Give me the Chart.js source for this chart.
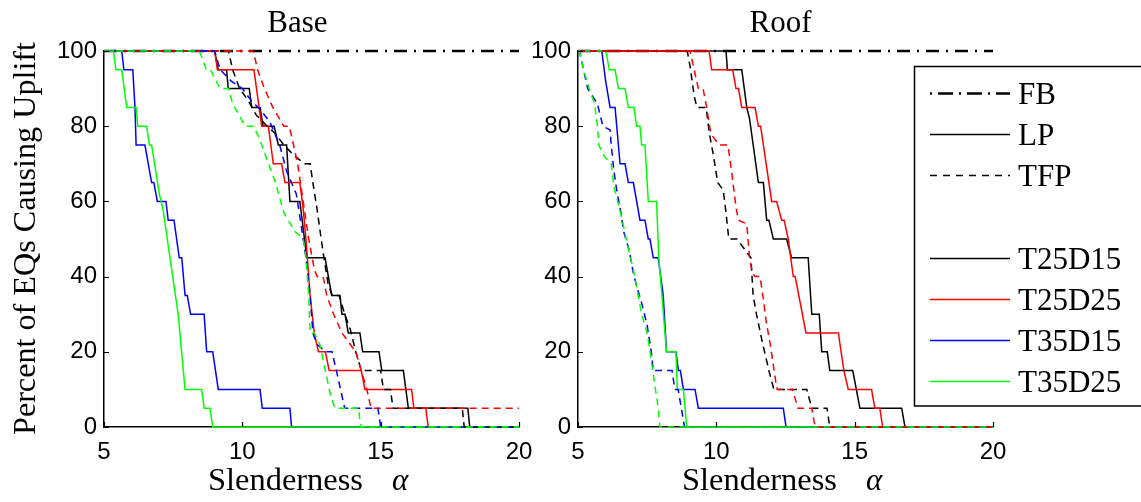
<!DOCTYPE html>
<html><head><meta charset="utf-8">
<script src="https://cdn.jsdelivr.net/npm/chart.js@4.4.1/dist/chart.umd.min.js"></script>
<style>
html,body{margin:0;padding:0;background:#fff;}
#wrap{position:relative;width:1141px;height:502px;overflow:hidden;background:#fff;}
canvas{position:absolute;left:0;top:0;}
</style></head><body>
<div id="wrap"><canvas id="c1" width="1141" height="502"></canvas><canvas id="c2" width="1141" height="502"></canvas></div>
<script>
// ---------- data ----------
const panelTitles = ['Base', 'Roof'];
const xTickValues = [5, 10, 15, 20];
const yTickValues = [0, 20, 40, 60, 80, 100];
const seriesNames = ['T25D15', 'T25D25', 'T35D15', 'T35D25'];
const seriesColors = ['#000000', '#ff0000', '#0000ff', '#00ff00'];
const legendLabels = ['FB', 'LP', 'TFP', '', 'T25D15', 'T25D25', 'T35D15', 'T35D25'];

const fbLine = [[5,100],[20,100]];

// Base panel, LP (solid)
const baseLP_T25D15 = [[5,100],[9.0,100],[9.13,95],[9.43,95],[9.49,90],[10.25,90],[10.34,85],[10.64,85],[10.75,80],[11.15,80],[11.3,75],[11.6,75],[11.72,60],[12.08,60],[12.33,45],[12.99,45],[13.23,35],[13.53,35],[13.6,30],[13.71,30],[13.83,25],[14.25,25],[14.35,20],[14.94,20],[15.04,15],[15.82,15],[16.0,5],[18.15,5],[18.22,0],[20,0]];
const baseLP_T25D25 = [[5,100],[9.0,100],[9.1,95],[10.42,95],[10.55,88],[10.7,80],[10.94,80],[11.12,70],[11.42,70],[11.54,65],[12.08,65],[12.2,58],[12.3,50],[12.45,35],[12.6,25],[12.75,20],[13.0,20],[13.14,15],[14.3,15],[14.43,10],[16.12,10],[16.2,5],[16.63,5],[16.72,0],[20,0]];
const baseLP_T35D15 = [[5,100],[5.64,100],[5.72,95],[6.04,95],[6.12,85],[6.16,75],[6.48,75],[6.6,70],[6.72,65],[6.8,65],[6.93,60],[7.24,60],[7.32,55],[7.53,55],[7.72,45],[7.81,45],[7.93,35],[8.01,35],[8.13,30],[8.62,30],[8.71,20],[8.93,20],[9.13,10],[10.64,10],[10.72,5],[11.72,5],[11.78,0],[20,0]];
const baseLP_T35D25 = [[5,100],[5.34,100],[5.43,95],[5.64,95],[5.82,85],[6.16,85],[6.22,80],[6.54,80],[6.64,75],[6.72,75],[7.0,62],[7.13,58],[7.68,30],[7.93,10],[8.53,10],[8.62,5],[8.83,5],[8.93,0],[20,0]];
// Base panel, TFP (dashed)
const baseTFP_T25D15 = [[5,100],[9.5,100],[9.65,95],[9.9,90],[10.2,87],[10.5,83],[10.9,80],[11.2,78],[11.5,75],[11.9,72],[12.25,70],[12.45,70],[12.55,65],[12.7,58],[12.85,50],[12.95,45],[13.1,38],[13.25,35],[13.5,35],[13.7,30],[13.9,26],[14.1,20],[14.3,15],[15.0,15],[15.1,10],[15.35,10],[15.45,5],[17.95,5],[18.02,0],[20,0]];
const baseTFP_T25D25 = [[5,100],[10.4,100],[10.55,95],[10.8,90],[11.1,85],[11.5,80],[11.7,80],[11.85,75],[12.0,70],[12.2,60],[12.4,50],[12.6,42],[12.7,40],[12.92,40],[13.05,35],[13.3,30],[13.6,25],[14.1,20],[14.3,15],[14.5,10],[14.65,5],[20,5]];
const baseTFP_T35D15 = [[5,100],[9.0,100],[9.2,95],[9.6,92],[10.0,90],[10.3,87],[10.7,84],[11.0,81],[11.35,75],[11.6,68],[11.95,62],[12.1,55],[12.3,45],[12.45,35],[12.55,25],[12.7,22],[13.0,20],[13.24,20],[13.4,15],[13.55,10],[13.7,5],[14.9,5],[15.0,0],[20,0]];
const baseTFP_T35D25 = [[5,100],[8.45,100],[8.7,95],[8.85,95],[9.2,90],[9.5,90],[9.65,86],[9.95,82],[10.1,80],[10.4,80],[10.6,77],[10.95,70],[11.2,65],[11.5,57],[11.9,52],[12.2,50],[12.3,45],[12.4,35],[12.45,25],[12.6,25],[12.8,22],[13.0,15],[13.2,8],[13.35,5],[14.2,5],[14.28,0],[20,0]];

// Roof panel, LP (solid)
const roofLP_T25D15 = [[5,100],[10.35,100],[10.4,95],[10.92,95],[11.1,85],[11.2,82],[11.52,65],[11.7,65],[11.82,55],[11.9,55],[12.06,50],[12.54,50],[12.72,45],[13.32,45],[13.45,30],[13.72,30],[13.81,20],[14.01,20],[14.1,15],[14.93,15],[15.19,5],[16.7,5],[16.82,0],[20,0]];
const roofLP_T25D25 = [[5,100],[9.74,100],[9.83,95],[10.59,95],[10.71,90],[10.8,90],[10.92,85],[11.4,85],[11.52,80],[11.6,80],[12.0,60],[12.18,60],[12.36,55],[12.45,55],[12.6,50],[12.78,40],[12.85,40],[13.24,25],[14.41,25],[14.61,15],[14.77,10],[15.61,10],[15.73,5],[15.91,5],[16.01,0],[20,0]];
const roofLP_T35D15 = [[5,100],[5.86,100],[6.0,92],[6.16,85],[6.34,85],[6.52,70],[6.7,70],[6.82,65],[7.0,65],[7.24,55],[7.42,55],[7.54,50],[7.6,50],[7.72,45],[7.9,45],[8.08,35],[8.2,20],[8.54,20],[8.63,15],[8.7,15],[8.81,10],[9.23,10],[9.35,5],[12.42,5],[12.52,0],[20,0]];
const roofLP_T35D25 = [[5,100],[6.01,100],[6.13,95],[6.34,95],[6.46,90],[6.7,90],[6.82,85],[7.02,85],[7.12,80],[7.24,80],[7.3,75],[7.42,75],[7.54,60],[7.84,60],[7.92,45],[8.2,20],[8.54,20],[8.59,10],[8.81,10],[8.93,0],[20,0]];
// Roof panel, TFP (dashed)
const roofTFP_T25D15 = [[5,100],[8.95,100],[9.05,96],[9.2,88],[9.3,85],[9.63,85],[9.75,78],[9.9,72],[10.05,65],[10.25,63],[10.35,57],[10.45,50],[10.75,50],[11.25,45],[11.33,35],[11.45,30],[11.65,23],[11.9,15],[12.08,10],[13.27,10],[13.45,5],[14.0,5],[14.1,0],[20,0]];
const roofTFP_T25D25 = [[5,100],[9.05,100],[9.2,95],[9.35,90],[9.52,90],[9.65,85],[9.8,78],[10.1,75],[10.42,75],[10.55,68],[10.72,58],[10.8,55],[11.1,54],[11.2,45],[11.3,41],[11.4,40],[11.58,40],[11.7,34],[11.8,28],[11.95,22],[12.05,17],[12.15,12],[12.2,10],[12.75,10],[12.95,5],[13.45,5],[13.57,0],[20,0]];
const roofTFP_T35D15 = [[5,100],[5.05,100],[5.2,95],[5.35,90],[5.7,86],[5.9,80],[6.16,79],[6.2,75],[6.3,68],[6.4,63],[6.55,57],[6.65,52],[6.85,47],[7.0,41],[7.1,38],[7.3,33],[7.5,27],[7.65,20],[7.72,15],[8.4,15],[8.5,10],[8.62,10],[8.85,0],[20,0]];
const roofTFP_T35D25 = [[5,100],[5.05,100],[5.2,95],[5.4,90],[5.6,86],[5.7,80],[5.75,75],[5.95,72],[6.2,70],[6.3,64],[6.5,58],[6.6,55],[6.8,48],[7.0,42],[7.1,38],[7.3,30],[7.5,25],[7.6,20],[7.7,15],[7.8,10],[7.9,5],[7.96,0],[20,0]];

const baseLP = [baseLP_T25D15, baseLP_T25D25, baseLP_T35D15, baseLP_T35D25];
const baseTFP = [baseTFP_T25D15, baseTFP_T25D25, baseTFP_T35D15, baseTFP_T35D25];
const roofLP = [roofLP_T25D15, roofLP_T25D25, roofLP_T35D15, roofLP_T35D25];
const roofTFP = [roofTFP_T25D15, roofTFP_T25D25, roofTFP_T35D15, roofTFP_T35D25];

// ---------- styles ----------
const FB_DASH = [13, 7, 2, 7];
const TFP_DASH = [7, 5];
const SERIF = '"Liberation Serif", "Times New Roman", serif';
const SANS = '"Liberation Sans", Arial, sans-serif';
const TITLE_SHIFT = [-14, -5];

function toPts(arr){ return arr.map(p => ({x:p[0], y:p[1]})); }

function buildDatasets(lp, tfp){
  const ds = [];
  ds.push({label:'FB', data:toPts(fbLine), borderColor:'#000', borderWidth:2.5, borderDash:FB_DASH, order:100});
  let ord = 50;
  lp.forEach((s,i) => ds.push({label:seriesNames[i]+' LP', data:toPts(s), borderColor:seriesColors[i], borderWidth:1.5, order:ord--}));
  tfp.forEach((s,i) => ds.push({label:seriesNames[i]+' TFP', data:toPts(s), borderColor:seriesColors[i], borderWidth:1.5, borderDash:TFP_DASH, order:ord--}));
  ds.forEach(d => { d.pointRadius = 0; d.tension = 0; d.fill = false; d.clip = false; });
  return ds;
}

function fitText(ctx, text, x, y, font, width, align){
  ctx.save();
  ctx.font = font;
  ctx.textAlign = align || 'left';
  ctx.textBaseline = 'alphabetic';
  const w = ctx.measureText(text).width;
  const s = width ? width / w : 1;
  ctx.translate(x, y);
  ctx.scale(s, 1);
  ctx.fillStyle = '#000';
  ctx.fillText(text, 0, 0);
  ctx.restore();
}

function decorPlugin(panelIndex){
  return {
    id:'decor'+panelIndex,
    afterDraw(chart){
      const ctx = chart.ctx;
      const a = chart.chartArea;
      const xs = chart.scales.x, ys = chart.scales.y;
      ctx.save();
      // inward ticks
      ctx.strokeStyle = '#000'; ctx.lineWidth = 1.2; ctx.setLineDash([]);
      ctx.beginPath();
      yTickValues.forEach(v => { const py = Math.round(ys.getPixelForValue(v)) + 0.5; ctx.moveTo(a.left, py); ctx.lineTo(a.left + 5, py); });
      xTickValues.forEach(v => { const px = Math.round(xs.getPixelForValue(v)) + 0.5; ctx.moveTo(px, a.bottom); ctx.lineTo(px, a.bottom - 5); });
      ctx.stroke();
      // title
      const cx = (a.left + a.right) / 2;
      fitText(ctx, panelTitles[panelIndex], cx + TITLE_SHIFT[panelIndex], 32, '31px ' + SERIF, 0, 'center');
      // x label
      fitText(ctx, 'Slenderness', a.left + 104, 490, '31px ' + SERIF, 155, 'left');
      fitText(ctx, '\u03B1', a.left + 288, 490, 'italic 31px ' + SERIF, 0, 'left');
      if (panelIndex === 0){
        ctx.save();
        ctx.font = '31px ' + SERIF;
        const t = 'Percent of EQs Causing Uplift';
        const w = ctx.measureText(t).width;
        ctx.translate(35, 435);
        ctx.rotate(-Math.PI/2);
        ctx.scale(393 / w, 1);
        ctx.fillStyle = '#000';
        ctx.textBaseline = 'alphabetic';
        ctx.fillText(t, 0, 0);
        ctx.restore();
      } else {
        // legend
        ctx.fillStyle = '#fff';
        ctx.fillRect(914, 66, 260, 340);
        ctx.strokeStyle = '#000'; ctx.lineWidth = 1.5;
        ctx.strokeRect(914.5, 66.5, 260, 339.5);
        legendLabels.forEach((lab, i) => {
          if (!lab) return;
          const y = Math.round(92.7 + i * 41.2) + 0.5;
          ctx.beginPath();
          ctx.lineDashOffset = 0;
          if (i === 0){ ctx.setLineDash([2, 6, 15, 6]); ctx.lineWidth = 2.5; ctx.strokeStyle = '#000'; }
          else if (i === 1){ ctx.setLineDash([]); ctx.lineWidth = 1.3; ctx.strokeStyle = '#000'; }
          else if (i === 2){ ctx.setLineDash([7,6]); ctx.lineWidth = 1.3; ctx.strokeStyle = '#000'; }
          else { ctx.setLineDash([]); ctx.lineWidth = 1.5; ctx.strokeStyle = seriesColors[i-4]; }
          ctx.moveTo(930, y); ctx.lineTo(1010, y); ctx.stroke();
          ctx.setLineDash([]);
          fitText(ctx, lab, 1018, y + 10.5, '31px ' + SERIF, 0, 'left');
        });
      }
      ctx.restore();
    }
  };
}

function makeChart(id, lp, tfp, panelIndex, yWidth, padRight){
  return new Chart(document.getElementById(id), {
    type:'line',
    data:{datasets:buildDatasets(lp, tfp)},
    options:{
      responsive:false, animation:false, devicePixelRatio:1,
      layout:{padding:{left:0, top:51, right:padRight, bottom:0}},
      plugins:{legend:{display:false}, tooltip:{enabled:false}, title:{display:false}},
      events:[],
      scales:{
        x:{type:'linear', min:5, max:20,
           afterBuildTicks:s => { s.ticks = xTickValues.map(v => ({value:v})); },
           afterFit:s => { s.height = 75; },
           grid:{display:false, drawTicks:false},
           border:{display:true, color:'#000', width:1.5},
           ticks:{color:'#000', font:{family:SANS, size:24}, padding:11, maxRotation:0, autoSkip:false}},
        y:{type:'linear', min:0, max:100,
           afterBuildTicks:s => { s.ticks = yTickValues.map(v => ({value:v})); },
           afterFit:s => { s.width = yWidth; },
           grid:{display:false, drawTicks:false},
           border:{display:true, color:'#000', width:1.5},
           ticks:{color:'#000', font:{family:SANS, size:24}, padding:7, autoSkip:false}}
      }
    },
    plugins:[decorPlugin(panelIndex)]
  });
}

makeChart('c1', baseLP, baseTFP, 0, 104, 1141 - 519);
makeChart('c2', roofLP, roofTFP, 1, 578, 1141 - 993);
</script>
</body></html>
